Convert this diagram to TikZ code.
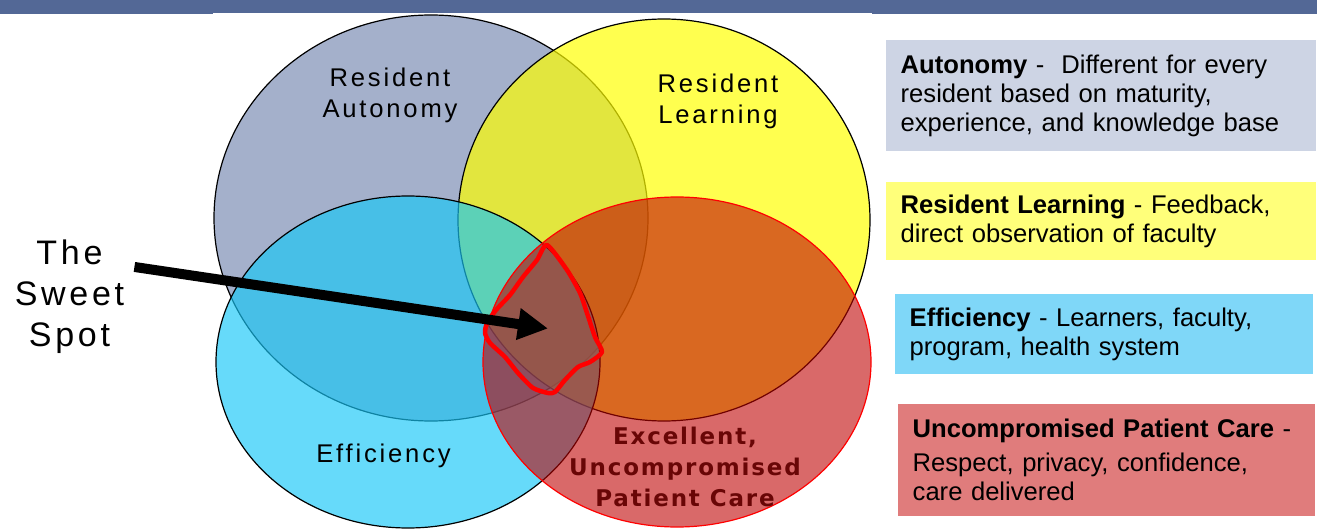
\documentclass[tikz,border=0pt]{standalone}
\usepackage{fontspec}
\setmainfont{Liberation Sans}
\newfontfamily\wide[LetterSpace=11]{Liberation Sans}
\newfontfamily\widebold[LetterSpace=8]{DejaVu Sans}
\usepackage{tikz}
\usetikzlibrary{arrows.meta}
\definecolor{titlebar}{RGB}{83,104,150}
\definecolor{autonomyfill}{RGB}{164,176,203}
\definecolor{learningfill}{RGB}{255,255,0}
\definecolor{efficiencyfill}{RGB}{23,199,247}
\definecolor{carefill}{RGB}{190,0,0}
\definecolor{autonomybox}{RGB}{205,212,228}
\definecolor{learningbox}{RGB}{255,255,122}
\definecolor{efficiencybox}{RGB}{127,215,248}
\definecolor{carebox}{RGB}{224,124,124}
\definecolor{caretext}{RGB}{105,6,6}
\tikzstyle{cerchio} = [draw=black, line width=1.2pt]
\tikzstyle{etichetta} = [inner sep=0pt, align=center, font=\wide\fontsize{25.6}{31}\selectfont]
\tikzstyle{casella} = [anchor=north west, inner xsep=14.5pt, inner ysep=0pt, align=left, font=\fontsize{25.6}{29}\selectfont]

\begin{document}
\begin{tikzpicture}[x=10pt, y=-10pt]

        \useasboundingbox (0,0) rectangle (131.7,52.9);

        % title bar
        \fill[titlebar] (0,0) rectangle (131.7,1.37);
        \fill[white] (21.3,1.27) rectangle (87.2,1.4);

        % the four circles, back to front
        \draw[cerchio, fill=autonomyfill] (43.1,21.8) ellipse [x radius=21.7, y radius=20.3];
        \draw[cerchio, fill=learningfill, fill opacity=0.69] (66.4,22.0) ellipse [x radius=20.6, y radius=20.1];
        \draw[cerchio, fill=efficiencyfill, fill opacity=0.66] (40.8,36.2) ellipse [x radius=19.2, y radius=16.6];
        \draw[cerchio, draw=red, fill=carefill, fill opacity=0.59] (67.7,36.2) ellipse [x radius=19.4, y radius=16.5];

        % hand drawn ring round the sweet spot
        \draw[red, line width=4.5pt, line join=round] plot[smooth cycle, tension=0.4] coordinates {(54.7,24.5) (56.7,27.0) (58.0,29.3) (58.7,31.3) (59.5,33.7) (60.2,35.2) (59.0,36.2) (57.8,36.7) (56.5,38.0) (55.5,39.2) (54.8,39.3) (53.3,38.8) (51.8,37.3) (50.5,35.7) (49.0,34.3) (48.5,33.3) (48.7,32.3) (49.6,31.0) (51.0,29.5) (52.3,27.7) (53.7,26.0)};

        \node (autonomy) [etichetta] at (39.0,9.57) {Resident\\Autonomy};
        \node (learning) [etichetta] at (71.8,10.17) {Resident\\Learning};
        \node (efficiency) [etichetta, anchor=base] at (38.35,46.27) {Efficiency};
        \node (care) [etichetta, text=caretext, font=\widebold\bfseries\fontsize{23}{30.8}\selectfont] at (68.5,46.7) {Excellent,\\Uncompromised\\Patient Care};

        \node (sweet) [etichetta, font=\wide\fontsize{34}{41}\selectfont] at (6.95,29.7) {The\\Sweet\\Spot};
        \coordinate (spot) at (54.8,32.85);

        \draw[line width=10pt, -{Triangle[length=30pt, width=30pt]}] ([shift={(1.0,2.7)}]sweet.north east) -- (spot);

        % legend boxes
        \node (autonomydef) [casella, fill=autonomybox, minimum width=430pt, minimum height=111pt, text width=401pt] at (88.6,4.0) {\textbf{Autonomy} -\ \ Different for every\\resident based on maturity,\\experience, and knowledge base};
        \node (learningdef) [casella, fill=learningbox, minimum width=430pt, minimum height=78pt, text width=401pt] at (88.6,18.2) {\textbf{Resident Learning} - Feedback,\\direct observation of faculty};
        \node (efficiencydef) [casella, fill=efficiencybox, minimum width=418pt, minimum height=80pt, text width=389pt] at (89.5,29.4) {\textbf{Efficiency} - Learners, faculty,\\program, health system};
        \node (caredef) [casella, fill=carebox, minimum width=417pt, minimum height=112pt, text width=388pt] at (89.8,40.4) {\textbf{Uncompromised Patient Care} -\\[5pt]Respect, privacy, confidence,\\care delivered};

    \end{tikzpicture}
\end{document}
